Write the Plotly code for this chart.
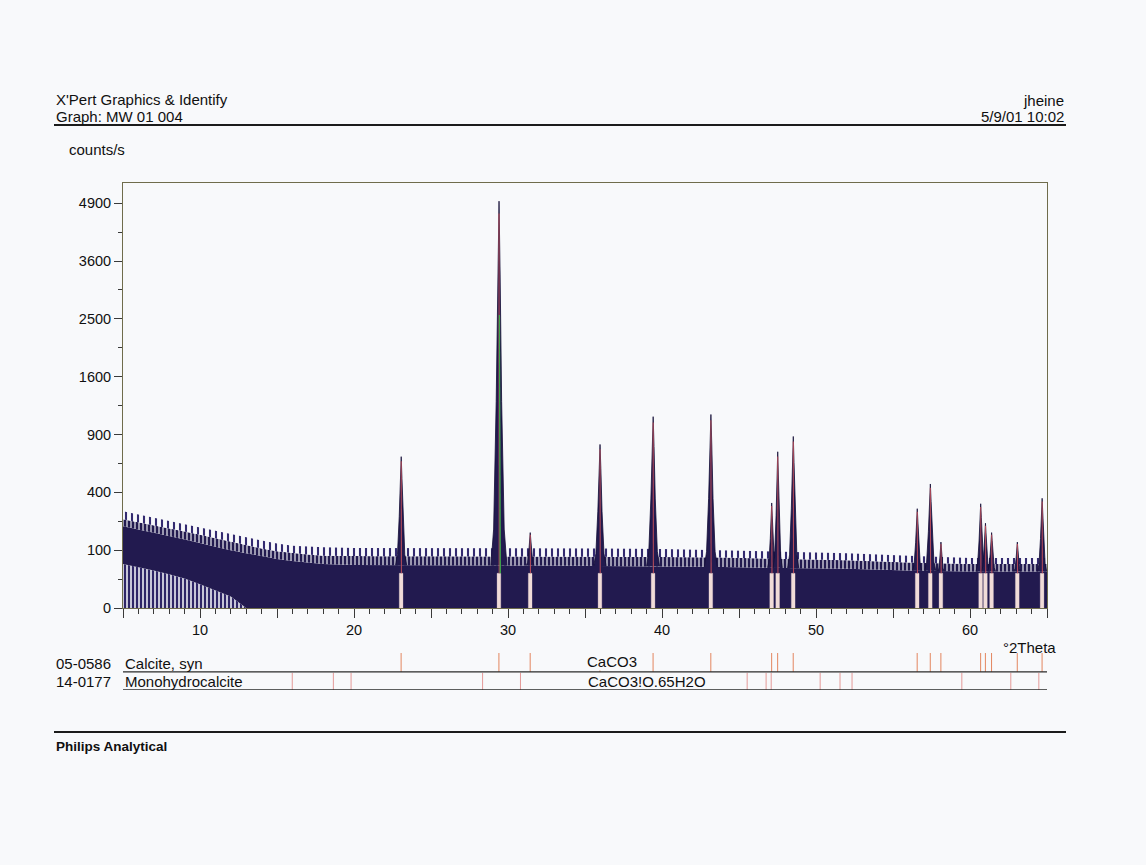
import numpy as np
import plotly.graph_objects as go

# ---------------- data ----------------
# noisy background envelope, counts/s
BG_X     = [5, 6, 7, 8, 9, 10, 11, 12, 13, 14, 15, 16, 17, 18, 20, 22, 25, 28, 32, 36, 40, 44, 48, 52, 56, 60, 65]
BG_FLOOR = [58, 50, 42, 34, 26, 17, 9, 4, 0, 0, 0, 0, 0, 0, 0, 0, 0, 0, 0, 0, 0, 0, 0, 0, 0, 0, 0]
BG_DENSE = [200, 185, 170, 155, 140, 125, 112, 100, 90, 80, 72, 66, 62, 58, 55, 55, 54, 54, 54, 53, 52, 50, 48, 46, 42, 40, 40]
BG_SPIKE = [235, 220, 205, 190, 175, 160, 145, 130, 118, 106, 96, 90, 86, 82, 80, 80, 80, 80, 80, 80, 78, 76, 72, 68, 62, 58, 58]
BG_MAX   = [280, 262, 245, 228, 212, 196, 180, 165, 150, 136, 124, 116, 112, 110, 108, 108, 106, 106, 106, 106, 104, 100, 96, 90, 82, 75, 75]

# measured peaks: position (deg 2theta), apex (counts/s), base half-width (deg)
PEAK_POS    = [23.06, 29.41, 31.44, 35.97, 39.42, 43.17, 47.12, 47.51, 48.52, 56.57, 57.42, 58.11, 60.69, 61.00, 61.40, 63.07, 64.68]
PEAK_COUNTS = [685, 4950, 170, 800, 1095, 1120, 330, 730, 880, 295, 460, 130, 325, 215, 170, 130, 360]
PEAK_HALFW  = [0.36, 0.52, 0.25, 0.40, 0.42, 0.42, 0.26, 0.30, 0.36, 0.30, 0.36, 0.20, 0.30, 0.26, 0.26, 0.22, 0.30]

# reference patterns (stick positions)
CALCITE_LINES = [23.06, 29.41, 31.44, 35.97, 39.42, 43.17, 47.12, 47.51, 48.52, 56.57, 57.42, 58.11,
                 60.69, 61.00, 61.40, 63.07, 64.68]
MONO_LINES = [15.99, 18.66, 19.81, 28.35, 30.81, 45.53, 46.76, 47.09, 50.27, 51.56, 52.34, 59.47, 62.65, 64.47]

Y_TICK_LABELS = [0, 100, 400, 900, 1600, 2500, 3600, 4900]
X_MAJOR = [5, 10, 15, 20, 25, 30, 35, 40, 45, 50, 55, 60, 65]
X_TICK_LABELS = ["", "10", "", "20", "", "30", "", "40", "", "50", "", "60", ""]

# ---------------- styling ----------------
PAGE = "#f8f9fb"
NAVY = "#221a4f"
NAVY2 = "#2e2566"
FONT = "Liberation Sans, Arial, sans-serif"
TXT = "#101010"
FRAME = "#6f6c4c"

W, H = 1146, 865
PX0, PX1, PY0, PY1 = 123, 1047, 183, 690       # plot area in pixels
MAIN_BOTTOM = 608


def s(v):
    return np.sqrt(np.asarray(v, dtype=float))


def px_x(p):
    return (p - PX0) / (PX1 - PX0)


def px_y(p):
    return (PY1 - p) / (PY1 - PY0)


def hatch(color, size, solidity):
    return dict(shape="|", fgcolor=color, bgcolor=PAGE, fgopacity=1, size=size, solidity=solidity)


fig = go.Figure()

# background noise bands (square-root display scale)
bx = BG_X
fig.add_trace(go.Scatter(x=bx, y=[0] * len(bx), mode="lines", line=dict(width=0),
                         showlegend=False, hoverinfo="skip"))
fig.add_trace(go.Scatter(x=bx, y=s(BG_FLOOR), mode="lines", line=dict(width=0), fill="tonexty",
                         fillcolor=PAGE, fillpattern=hatch(NAVY2, 4, 0.62),
                         showlegend=False, hoverinfo="skip"))
fig.add_trace(go.Scatter(x=bx, y=s(BG_DENSE), mode="lines", line=dict(width=0), fill="tonexty",
                         fillcolor=NAVY, showlegend=False, hoverinfo="skip"))
fig.add_trace(go.Scatter(x=bx, y=s(BG_SPIKE), mode="lines", line=dict(width=0), fill="tonexty",
                         fillcolor=PAGE, fillpattern=hatch(NAVY, 4, 0.72),
                         showlegend=False, hoverinfo="skip"))
fig.add_trace(go.Scatter(x=bx, y=s(BG_MAX), mode="lines", line=dict(width=0), fill="tonexty",
                         fillcolor=PAGE, fillpattern=hatch("#332a70", 6, 0.35),
                         showlegend=False, hoverinfo="skip"))

# peaks
FRAC = [0.0, 0.1, 0.45, 0.8, 1.0]
WFR = [1.0, 0.66, 0.34, 0.15, 0.015]
for p, c, hw in zip(PEAK_POS, PEAK_COUNTS, PEAK_HALFW):
    base = np.sqrt(np.interp(p, BG_X, BG_DENSE))
    top = np.sqrt(c)
    lv = [base + (top - base) * f for f in FRAC]
    xs = [p - hw * w for w in WFR] + [p + hw * w for w in WFR[::-1]]
    ys = lv + lv[::-1]
    fig.add_trace(go.Scatter(x=xs, y=ys, mode="lines", fill="toself", fillcolor=NAVY,
                             line=dict(color="#140e36", width=0.8),
                             showlegend=False, hoverinfo="skip"))

# light marker strips at the base of the calcite peaks
BAR_TOP = np.sqrt(36)
bxs, bys = [], []
for p in CALCITE_LINES:
    bxs += [p - 0.12, p + 0.12, p + 0.12, p - 0.12, p - 0.12, None]
    bys += [0, 0, BAR_TOP, BAR_TOP, 0, None]
fig.add_trace(go.Scatter(x=bxs, y=bys, mode="lines", fill="toself", fillcolor="#f1dcd8",
                         line=dict(color="#f1dcd8", width=0.3), showlegend=False, hoverinfo="skip"))

# fitted-profile lines (red) and one green line on the main peak
rx, ry = [], []
for p, c in zip(PEAK_POS, PEAK_COUNTS):
    rx += [p + 0.02, p + 0.005, None]
    ry += [BAR_TOP, np.sqrt(c) * 0.97, None]
fig.add_trace(go.Scatter(x=rx, y=ry, mode="lines", line=dict(color="#c9525c", width=1.1),
                         opacity=0.85, showlegend=False, hoverinfo="skip"))
big = PEAK_POS[int(np.argmax(PEAK_COUNTS))]
fig.add_trace(go.Scatter(x=[big + 0.09, big + 0.03], y=[BAR_TOP, np.sqrt(max(PEAK_COUNTS)) * 0.72],
                         mode="lines", line=dict(color="#3fa94a", width=1.3),
                         showlegend=False, hoverinfo="skip"))

# reference stick rows
cx, cy = [], []
for p in CALCITE_LINES:
    cx += [p, p, None]
    cy += [1.0, 2.05, None]
fig.add_trace(go.Scatter(x=cx, y=cy, mode="lines", line=dict(color="#e3865f", width=1),
                         xaxis="x2", yaxis="y2", showlegend=False, hoverinfo="skip"))
mx, my = [], []
for p in MONO_LINES:
    mx += [p, p, None]
    my += [0.0, 0.95, None]
fig.add_trace(go.Scatter(x=mx, y=my, mode="lines", line=dict(color="#e49a98", width=1),
                         xaxis="x2", yaxis="y2", showlegend=False, hoverinfo="skip"))

main_bottom = px_y(MAIN_BOTTOM)
row_top = px_y(653)

fig.update_layout(
    width=W, height=H,
    paper_bgcolor=PAGE, plot_bgcolor=PAGE,
    margin=dict(l=PX0, r=W - PX1, t=PY0, b=H - PY1, pad=0),
    font=dict(family=FONT, color=TXT, size=15),
    showlegend=False,
    xaxis=dict(range=[5, 65], domain=[0, 1], anchor="y",
               showline=True, linecolor=FRAME, linewidth=1, mirror=True,
               showgrid=False, zeroline=False,
               ticks="outside", ticklen=9, tickwidth=1, tickcolor="#3a3a3a",
               tickvals=X_MAJOR, ticktext=X_TICK_LABELS,
               tickfont=dict(size=14.5, color=TXT),
               minor=dict(dtick=1, tick0=5, ticks="outside", ticklen=5, tickcolor="#3a3a3a", showgrid=False)),
    yaxis=dict(range=[0, 73.5], domain=[main_bottom, 1], anchor="x",
               showline=True, linecolor=FRAME, linewidth=1, mirror=True,
               showgrid=False, zeroline=False,
               ticks="outside", ticklen=8, tickwidth=1, tickcolor="#3a3a3a",
               tickvals=list(s(Y_TICK_LABELS)), ticktext=[str(v) for v in Y_TICK_LABELS],
               tickfont=dict(size=14.5, color=TXT),
               minor=dict(dtick=5, tick0=0, ticks="outside", ticklen=4, tickcolor="#3a3a3a", showgrid=False)),
    xaxis2=dict(range=[5, 65], domain=[0, 1], anchor="y2", matches="x", visible=False),
    yaxis2=dict(range=[0, 2.05], domain=[0, row_top], anchor="x2", visible=False),
)

# row base lines
for yv in (0.0, 1.0):
    fig.add_shape(type="line", xref="x2", yref="y2", x0=5, x1=65, y0=yv, y1=yv,
                  line=dict(color="#2a2a2a", width=1.3))

# header / footer rules
for py in (125, 732):
    fig.add_shape(type="line", xref="paper", yref="paper", x0=px_x(54), x1=px_x(1066),
                  y0=px_y(py), y1=px_y(py), line=dict(color="#1b1b1b", width=2))


def ann(x, y, text, xanchor="left", size=15, bg=None):
    d = dict(x=px_x(x), y=px_y(y), xref="paper", yref="paper", text=text, showarrow=False,
             xanchor=xanchor, yanchor="middle", font=dict(family=FONT, size=size, color=TXT))
    if bg:
        d["bgcolor"] = bg
        d["borderpad"] = 0
    fig.add_annotation(**d)


ann(54, 99, "X'Pert Graphics &amp; Identify")
ann(54, 116, "Graph: MW 01 004")
ann(1066, 100, "jheine", "right")
ann(1066, 116, "5/9/01 10:02", "right")
ann(67, 150, "counts/s")
ann(1058, 647, "°2Theta", "right")
ann(54, 663, "05-0586")
ann(123, 663, "Calcite, syn")
ann(586, 661, "CaCO3", bg=PAGE)
ann(54, 681, "14-0177")
ann(123, 681, "Monohydrocalcite")
ann(586, 681, "CaCO3!O.65H2O")
ann(54, 746, "<b>Philips Analytical</b>", size=13.5)

fig.write_html("out.html", include_plotlyjs=True, config={"displayModeBar": False},
               post_script="document.body.style.margin='0';document.documentElement.style.overflow='hidden';")
